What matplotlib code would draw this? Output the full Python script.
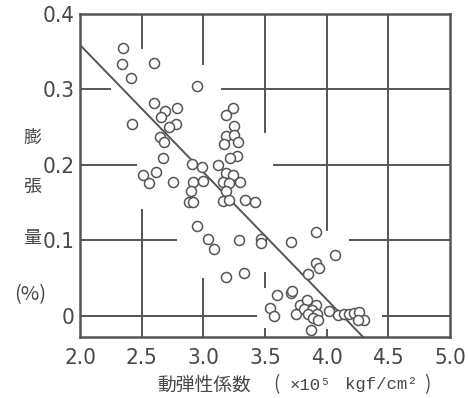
import numpy as np
import matplotlib
matplotlib.use('Agg')
import matplotlib.pyplot as plt

# 動弾性係数 (x10^5 kgf/cm2)
modulus = [2.35, 2.34, 2.60, 2.41, 2.95, 2.60, 2.79, 2.69, 2.66, 2.42,
           2.78, 2.72, 2.65, 2.68, 2.67, 2.62, 2.51, 2.56, 2.75, 2.91,
           2.99, 2.92, 3.00, 2.90, 2.88, 2.92,
           3.24, 3.18, 3.25, 3.18, 3.25, 3.17, 3.28, 3.27, 3.22, 3.12,
           3.18, 3.24, 3.30, 3.16, 3.21, 3.18, 3.16, 3.21, 3.34, 3.42,
           2.95, 3.04, 3.09, 3.29, 3.47, 3.47, 3.71, 3.91, 3.18, 3.33,
           4.07, 3.91, 3.94, 3.85,
           3.60, 3.71, 3.72, 3.54, 3.57, 3.75, 3.78, 3.84, 3.91, 3.82,
           3.88, 3.85, 3.92, 3.89, 3.93, 3.87, 4.02, 4.09, 4.14, 4.18,
           4.22, 4.26, 4.30, 4.25]
# 膨張量 (%)
expansion = [0.355, 0.334, 0.335, 0.315, 0.304, 0.282, 0.276, 0.271, 0.264, 0.254,
             0.254, 0.250, 0.237, 0.231, 0.209, 0.191, 0.187, 0.176, 0.177, 0.201,
             0.197, 0.178, 0.179, 0.166, 0.151, 0.151,
             0.275, 0.266, 0.252, 0.238, 0.240, 0.228, 0.230, 0.212, 0.209, 0.200,
             0.189, 0.187, 0.178, 0.177, 0.176, 0.166, 0.152, 0.154, 0.154, 0.151,
             0.119, 0.102, 0.088, 0.101, 0.102, 0.096, 0.098, 0.111, 0.052, 0.057,
             0.081, 0.070, 0.063, 0.056,
             0.027, 0.030, 0.033, 0.010, 0.000, 0.002, 0.014, 0.021, 0.015, 0.009,
             0.008, 0.003, 0.003, -0.003, -0.005, -0.019, 0.006, 0.001, 0.003, 0.003,
             0.004, 0.005, -0.005, -0.005]

# 回帰直線
fit_intercept = 0.359   # x = 2.0 での値
fit_slope = -0.1686

xticks = [2.0, 2.5, 3.0, 3.5, 4.0, 4.5, 5.0]
xticklabels = ['2.0', '2.5', '3.0', '3.5', '4.0', '4.5', '5.0']
yticks = [0, 0.1, 0.2, 0.3, 0.4]
yticklabels = ['0', '0.1', '0.2', '0.3', '0.4']

ink = '#555555'
text_ink = '#474747'

# 点の周りが空いている格子線 (描画用の区間)
vgrid = {2.5: [(0.354, 0.4), (-0.03, 0.142)],
         3.0: [(0.332, 0.4), (-0.03, 0.05)],
         3.5: [(0.242, 0.4), (0.037, 0.058), (-0.03, -0.016)],
         4.0: [(0.112, 0.4), (-0.03, -0.018)],
         4.5: [(-0.03, 0.4)]}
hgrid = {0.3: [(2.0, 2.25), (3.14, 5.0)],
         0.2: [(2.0, 2.46), (3.565, 5.0)],
         0.1: [(2.0, 2.79), (4.18, 5.0)],
         0.0: [(2.0, 3.435), (4.45, 5.0)]}


def px(x, y):
    # 画像のピクセル位置 -> figure 座標
    return x / 468, 1 - y / 398


def main():
    fig = plt.figure(figsize=(4.68, 3.98), dpi=100)
    ax = fig.add_axes([80/468, 61/398, 370/468, 323/398])
    ax.set_xlim(2.0, 5.0)
    ax.set_ylim(-0.028, 0.4)

    for x, segs in vgrid.items():
        for y0, y1 in segs:
            ax.vlines(x, y0, y1, color=ink, lw=1.4, zorder=1)
    for y, segs in hgrid.items():
        for x0, x1 in segs:
            ax.hlines(y, x0, x1, color=ink, lw=1.4, zorder=1)

    xs = np.array([2.0, 4.6])
    ax.plot(xs, fit_intercept + fit_slope * (xs - 2.0), color=ink, lw=1.4, zorder=2)

    ax.plot(modulus, expansion, 'o', ms=7.2, mfc='white', mec=ink, mew=1.1,
            zorder=3, clip_on=False)

    for s in ax.spines.values():
        s.set_color(ink)
        s.set_linewidth(1.8)

    ax.set_xticks(xticks)
    ax.set_xticklabels(xticklabels)
    ax.set_yticks(yticks)
    ax.set_yticklabels(yticklabels)
    ax.tick_params(length=0, labelsize=16, labelcolor=text_ink)
    ax.tick_params(axis='x', pad=8)
    ax.tick_params(axis='y', pad=4)
    for lab in ax.get_xticklabels() + ax.get_yticklabels():
        lab.set_family('DejaVu Sans')
        lab.set_fontstretch('condensed')

    jp = ['Noto Sans CJK JP', 'DejaVu Sans']
    for ch, y in [('膨', 138), ('張', 187), ('量', 238)]:
        fig.text(*px(32, y), ch, ha='center', va='center', family=jp,
                 fontsize=13, color=text_ink)
    fig.text(*px(30, 295), '(%)', ha='center', va='center', family=jp,
             fontsize=14.5, color=text_ink)

    ly = 385
    fig.text(*px(204, ly), '動弾性係数', ha='center', va='center', family=jp,
             fontsize=13.5, color=text_ink)
    fig.text(*px(276, ly), '(', ha='center', va='center', family=jp,
             fontsize=13.5, color=text_ink)
    mono = ['Liberation Mono', 'DejaVu Sans Mono']
    fig.text(*px(310, ly), '×10⁵', ha='center', va='center', family=mono,
             fontsize=12.5, color=text_ink)
    fig.text(*px(381, ly), 'kgf/cm²', ha='center', va='center', family=mono,
             fontsize=12.5, color=text_ink)
    fig.text(*px(427, ly), ')', ha='center', va='center', family=jp,
             fontsize=13.5, color=text_ink)

    plt.savefig('out.png', dpi=100)


if __name__ == '__main__':
    main()
